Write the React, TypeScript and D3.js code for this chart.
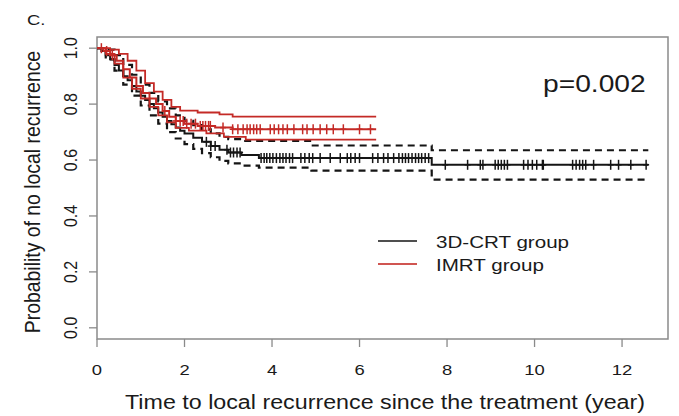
import React from "react";
import * as d3 from "d3";

// ---- Data ----
const xTicks = [0, 2, 4, 6, 8, 10, 12];
const yTicks = [0, 0.2, 0.4, 0.6, 0.8, 1.0];
const yTickLabels = ["0.0", "0.2", "0.4", "0.6", "0.8", "1.0"];

// 3D-CRT group (black) Kaplan-Meier estimate
const crtTimes = [0, 0.1, 0.2, 0.3, 0.4, 0.5, 0.6, 0.7, 0.8, 0.9, 1.0, 1.1, 1.2, 1.3, 1.4, 1.5, 1.6, 1.7, 1.8, 1.9, 2.0, 2.2, 2.4, 2.6, 2.8, 3.0, 3.3, 3.7, 7.65];
const crtSurv = [1.0, 0.99, 0.975, 0.96, 0.94, 0.92, 0.9, 0.885, 0.865, 0.845, 0.83, 0.815, 0.8, 0.785, 0.77, 0.755, 0.74, 0.728, 0.716, 0.705, 0.695, 0.68, 0.665, 0.65, 0.637, 0.627, 0.618, 0.607, 0.583];
const crtEnd = 12.6;
const crtUpperTimes = [0, 0.2, 0.4, 0.6, 0.8, 1.0, 1.2, 1.4, 1.6, 1.8, 2.0, 2.2, 2.4, 2.6, 2.8, 3.0, 3.3, 4.9, 7.65];
const crtUpper = [1.0, 0.995, 0.975, 0.94, 0.905, 0.87, 0.84, 0.81, 0.785, 0.76, 0.74, 0.725, 0.71, 0.695, 0.683, 0.675, 0.668, 0.652, 0.635];
const crtLowerTimes = [0, 0.2, 0.4, 0.6, 0.8, 1.0, 1.2, 1.4, 1.6, 1.8, 2.0, 2.2, 2.4, 2.6, 2.8, 3.0, 3.3, 3.7, 4.9, 7.65];
const crtLower = [1.0, 0.96, 0.92, 0.87, 0.83, 0.795, 0.76, 0.73, 0.7, 0.677, 0.657, 0.64, 0.625, 0.61, 0.597, 0.588, 0.58, 0.573, 0.562, 0.53];
const crtCensored = [2.5, 2.6, 2.7, 2.97, 3.05, 3.12, 3.2, 3.27, 3.75, 3.82, 3.88, 3.95, 4.02, 4.1, 4.18, 4.25, 4.32, 4.4, 4.47, 4.66, 4.75, 4.85, 4.93, 5.1, 5.33, 5.56, 5.72, 5.8, 5.9, 6.0, 6.3, 6.42, 6.55, 6.65, 6.78, 6.9, 6.98, 7.05, 7.12, 7.2, 7.28, 7.35, 7.42, 7.5, 7.58, 7.96, 8.47, 8.76, 8.82, 9.1, 9.17, 9.24, 9.31, 9.38, 9.75, 9.85, 9.95, 10.05, 10.18, 10.2, 10.87, 10.95, 11.03, 11.1, 11.17, 11.35, 11.74, 11.92, 12.2, 12.55];

// IMRT group (red) Kaplan-Meier estimate
const imrtTimes = [0, 0.15, 0.3, 0.45, 0.6, 0.75, 0.9, 1.05, 1.2, 1.35, 1.5, 1.65, 1.8, 2.0, 2.3, 2.7, 3.1];
const imrtSurv = [1.0, 0.99, 0.975, 0.955, 0.925, 0.895, 0.865, 0.84, 0.82, 0.8, 0.775, 0.755, 0.74, 0.73, 0.722, 0.716, 0.71];
const imrtEnd = 6.38;
const imrtUpperTimes = [0, 0.3, 0.5, 0.7, 0.9, 1.1, 1.3, 1.5, 1.7, 1.9, 2.3, 2.8, 3.1];
const imrtUpper = [1.0, 0.995, 0.98, 0.955, 0.92, 0.875, 0.845, 0.815, 0.79, 0.777, 0.77, 0.763, 0.755];
const imrtLowerTimes = [0, 0.2, 0.4, 0.6, 0.8, 1.0, 1.2, 1.4, 1.6, 1.8, 2.1, 2.5, 2.9, 3.4];
const imrtLower = [1.0, 0.98, 0.945, 0.895, 0.855, 0.82, 0.79, 0.76, 0.735, 0.715, 0.705, 0.695, 0.683, 0.673];
const imrtCensored = [0.1, 0.22, 0.35, 1.55, 1.8, 1.9, 1.97, 2.05, 2.15, 2.25, 2.36, 2.42, 2.48, 2.55, 2.59, 2.88, 3.1, 3.22, 3.34, 3.43, 3.5, 3.58, 3.65, 3.73, 3.96, 4.05, 4.15, 4.25, 4.35, 4.5, 4.7, 4.8, 4.94, 5.1, 5.25, 5.4, 5.63, 6.0, 6.25];

const legendLabels = ["3D-CRT group", "IMRT group"];
const pValueText = "p=0.002";
const xTitle = "Time to local recurrence since the treatment (year)";
const yTitle = "Probability of no local recurrence";
const panelLabel = "C.";

// ---- Layout ----
const W = 679;
const H = 416;
const plot = { left: 97, right: 668, top: 37, bottom: 339 };
const BLACK = "#151515";
const RED = "#c42a26";
const AXIS = "#8a8a8a";
const TEXT = "#1a1a1a";
const FONT = "'Liberation Sans', Arial, sans-serif";
const SX = 1.19; // horizontal stretch of the original figure

const x = d3.scaleLinear().domain([0, 13.05]).range([plot.left, plot.right]);
const y = d3.scaleLinear().domain([-0.04, 1.04]).range([plot.bottom, plot.top]);

function stepPath(times: number[], vals: number[], end: number) {
  const pts: [number, number][] = times.map((t, i) => [t, vals[i]]);
  pts.push([end, vals[vals.length - 1]]);
  return d3
    .line<[number, number]>()
    .x((d) => x(d[0]))
    .y((d) => y(d[1]))
    .curve(d3.curveStepAfter)(pts) as string;
}

function valueAt(times: number[], vals: number[], t: number) {
  const i = Math.max(0, d3.bisectRight(times, t) - 1);
  return vals[i];
}

function HText(props: { x: number; y: number; size: number; anchor?: string; children: React.ReactNode }) {
  return (
    <text
      transform={`translate(${props.x},${props.y}) scale(${SX},1)`}
      fontSize={props.size}
      fontFamily={FONT}
      fill={TEXT}
      textAnchor={props.anchor || "start"}
    >
      {props.children}
    </text>
  );
}

function Censor({ times, vals, marks, color, width }: { times: number[]; vals: number[]; marks: number[]; color: string; width: number }) {
  return (
    <g stroke={color} strokeWidth={width}>
      {marks.map((t, i) => {
        const cx = x(t);
        const cy = y(valueAt(times, vals, t));
        return (
          <g key={i}>
            <line x1={cx} x2={cx} y1={cy - 5} y2={cy + 5} />
            <line x1={cx - 3} x2={cx + 3} y1={cy} y2={cy} />
          </g>
        );
      })}
    </g>
  );
}

export default function App() {
  return (
    <svg width={W} height={H} style={{ position: "absolute", left: 0, top: 0, background: "#fff" }}>
      <rect x={0} y={0} width={W} height={H} fill="#fff" />
      {/* Box */}
      <rect
        x={plot.left}
        y={plot.top}
        width={plot.right - plot.left}
        height={plot.bottom - plot.top}
        fill="none"
        stroke={AXIS}
        strokeWidth={1.5}
      />
      {/* Y axis ticks and labels */}
      {yTicks.map((v, i) => (
        <g key={"y" + i}>
          <line x1={plot.left - 8} x2={plot.left} y1={y(v)} y2={y(v)} stroke={AXIS} strokeWidth={1.3} />
          <text
            transform={`translate(76.5,${y(v)}) rotate(-90) scale(1,1.15)`}
            fontSize={16}
            fontFamily={FONT}
            fill={TEXT}
            textAnchor="middle"
          >
            {yTickLabels[i]}
          </text>
        </g>
      ))}
      {/* X axis ticks and labels */}
      {xTicks.map((v, i) => (
        <g key={"x" + i}>
          <line x1={x(v)} x2={x(v)} y1={plot.bottom} y2={plot.bottom + 8} stroke={AXIS} strokeWidth={1.3} />
          <HText x={x(v)} y={374.5} size={15.5} anchor="middle">
            {String(v)}
          </HText>
        </g>
      ))}
      {/* Axis titles */}
      <text
        x={125}
        y={409}
        fontSize={19.5}
        fontFamily={FONT}
        fill={TEXT}
        textLength={520}
        lengthAdjust="spacingAndGlyphs"
      >
        {xTitle}
      </text>
      <text
        transform={`translate(40,192) rotate(-90) scale(1,1.1)`}
        fontSize={19.4}
        fontFamily={FONT}
        fill={TEXT}
        textAnchor="middle"
      >
        {yTitle}
      </text>
      <HText x={27} y={25} size={15.5}>
        {panelLabel}
      </HText>

      {/* 3D-CRT curves */}
      <path d={stepPath(crtUpperTimes, crtUpper, crtEnd)} fill="none" stroke={BLACK} strokeWidth={2.2} strokeDasharray="7,5" />
      <path d={stepPath(crtLowerTimes, crtLower, crtEnd)} fill="none" stroke={BLACK} strokeWidth={2.2} strokeDasharray="7,5" />
      <path d={stepPath(crtTimes, crtSurv, crtEnd)} fill="none" stroke={BLACK} strokeWidth={2} />
      <Censor times={crtTimes} vals={crtSurv} marks={crtCensored} color={BLACK} width={1.5} />

      {/* IMRT curves */}
      <path d={stepPath(imrtUpperTimes, imrtUpper, imrtEnd)} fill="none" stroke={RED} strokeWidth={1.8} />
      <path d={stepPath(imrtLowerTimes, imrtLower, imrtEnd)} fill="none" stroke={RED} strokeWidth={1.8} />
      <path d={stepPath(imrtTimes, imrtSurv, imrtEnd)} fill="none" stroke={RED} strokeWidth={2} />
      <Censor times={imrtTimes} vals={imrtSurv} marks={imrtCensored} color={RED} width={1.5} />

      {/* p-value */}
      <HText x={543} y={92} size={23.7}>
        {pValueText}
      </HText>

      {/* Legend */}
      <line x1={378} x2={417} y1={241} y2={241} stroke={BLACK} strokeWidth={1.6} />
      <line x1={378} x2={417} y1={264} y2={264} stroke={RED} strokeWidth={2} strokeOpacity={0.8} />
      <HText x={436} y={248} size={17.3}>
        {legendLabels[0]}
      </HText>
      <HText x={436} y={271} size={17.3}>
        {legendLabels[1]}
      </HText>
    </svg>
  );
}
